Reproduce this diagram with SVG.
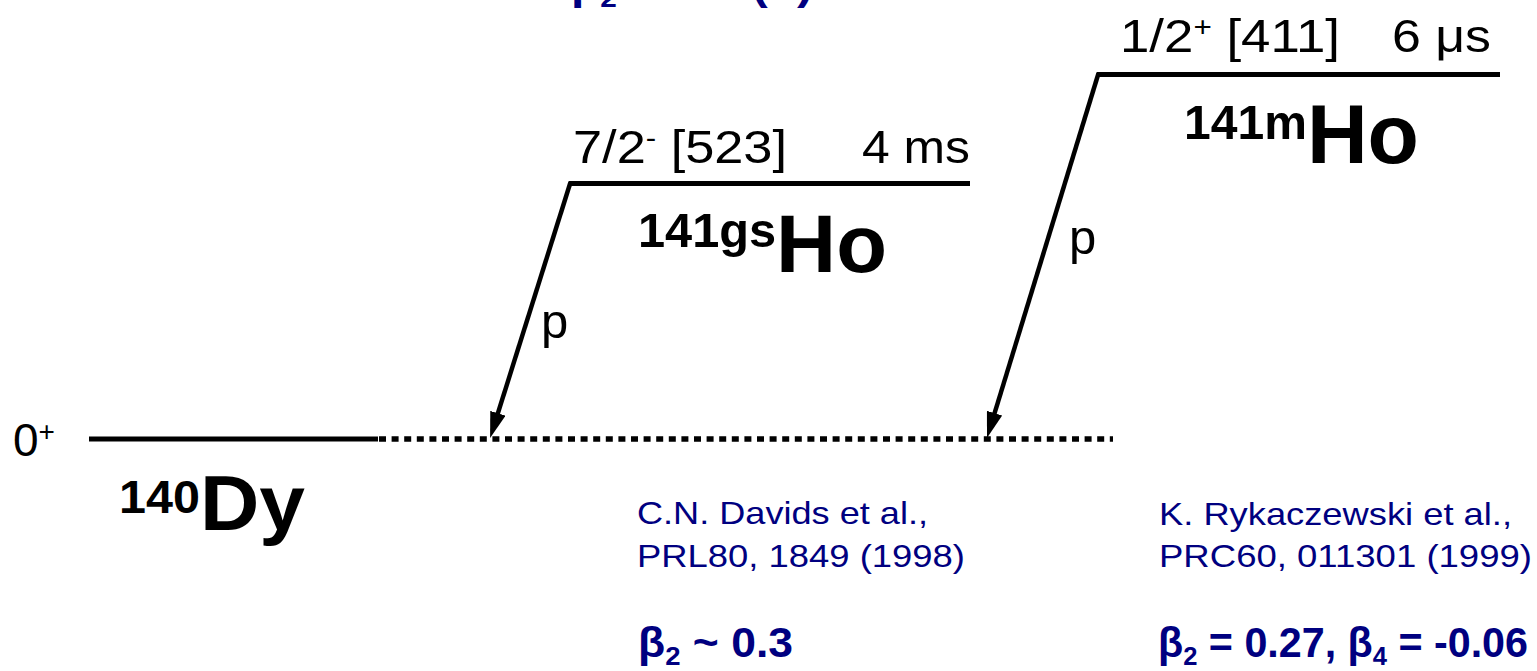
<svg xmlns="http://www.w3.org/2000/svg" width="1537" height="671" viewBox="0 0 1537 671">
<style>
  .lvl { stroke:#000; stroke-width:5; fill:none; stroke-linecap:butt; }
  .dot { stroke:#000; stroke-width:5.5; fill:none; stroke-dasharray:7 5.6; }
  .arr { stroke:#000; stroke-width:4.5; fill:none; }
  .t { font-family:"Liberation Sans", Arial, sans-serif; fill:#000; }
  .b { font-family:"Liberation Sans", Arial, sans-serif; font-weight:bold; fill:#000; }
  .ref { font-family:"Liberation Sans", Arial, sans-serif; fill:#000080; font-size:31.5px; }
  .beta { font-family:"Liberation Sans", Arial, sans-serif; font-weight:bold; fill:#000080; font-size:42px; }
</style>
<defs>
  <marker id="ah" viewBox="0 0 26 16" markerWidth="26" markerHeight="16" refX="1" refY="8" orient="auto" markerUnits="userSpaceOnUse">
    <path d="M0,0 L26,8 L0,16 z" fill="#000"/>
  </marker>
</defs>

<text class="beta" x="571" y="-1" textLength="242" lengthAdjust="spacingAndGlyphs">β<tspan font-size="26" dy="8">2</tspan><tspan dy="-8"> ~ 0.3 (?)</tspan></text>

<g id="dy140">
  <line class="lvl" x1="89" y1="439" x2="378" y2="439"/>
  <line class="dot" x1="379" y1="439" x2="1113" y2="439"/>
  <text class="t" x="13" y="456" font-size="46">0<tspan font-size="28" dy="-15">+</tspan></text>
  <text class="b" x="119" y="513" font-size="46" textLength="186" lengthAdjust="spacingAndGlyphs">140<tspan font-size="78" dy="17">Dy</tspan></text>
</g>

<g id="ho141gs">
  <line class="lvl" x1="569" y1="183.5" x2="970" y2="183.5"/>
  <text class="t" x="573" y="163" font-size="47" textLength="214" lengthAdjust="spacingAndGlyphs">7/2<tspan font-size="28" dy="-16">-</tspan><tspan dy="16"> [523]</tspan></text>
  <text class="t" x="862" y="163" font-size="47" textLength="108" lengthAdjust="spacingAndGlyphs">4 ms</text>
  <text class="b" x="638" y="247" font-size="48" textLength="249" lengthAdjust="spacingAndGlyphs">141gs<tspan font-size="82" dy="25">Ho</tspan></text>
</g>

<g id="ho141m">
  <line class="lvl" x1="1097" y1="74.5" x2="1500" y2="74.5"/>
  <text class="t" x="1120" y="52" font-size="47" textLength="220" lengthAdjust="spacingAndGlyphs">1/2<tspan font-size="28" dy="-16">+</tspan><tspan dy="16"> [411]</tspan></text>
  <text class="t" x="1392" y="52" font-size="47" textLength="99" lengthAdjust="spacingAndGlyphs">6 μs</text>
  <text class="b" x="1184" y="139" font-size="48" textLength="235" lengthAdjust="spacingAndGlyphs">141m<tspan font-size="84" dy="24">Ho</tspan></text>
</g>

<g id="connectors">
  <line class="arr" x1="570.6" y1="182" x2="497.6" y2="414.2" marker-end="url(#ah)"/>
  <line class="arr" x1="1098.6" y1="73" x2="994.3" y2="414.1" marker-end="url(#ah)"/>
  <text class="t" x="541" y="338" font-size="49">p</text>
  <text class="t" x="1069" y="254" font-size="49">p</text>
</g>

<g id="ref-davids">
  <text class="ref" x="637" y="524" textLength="291" lengthAdjust="spacingAndGlyphs">C.N. Davids et al.,</text>
  <text class="ref" x="637" y="567" textLength="328" lengthAdjust="spacingAndGlyphs">PRL80, 1849 (1998)</text>
  <text class="beta" x="638" y="657" textLength="155" lengthAdjust="spacingAndGlyphs">β<tspan font-size="26" dy="8">2</tspan><tspan dy="-8"> ~ 0.3</tspan></text>
</g>

<g id="ref-rykaczewski">
  <text class="ref" x="1159" y="525" textLength="353" lengthAdjust="spacingAndGlyphs">K. Rykaczewski et al.,</text>
  <text class="ref" x="1159" y="567" textLength="373" lengthAdjust="spacingAndGlyphs">PRC60, 011301 (1999)</text>
  <text class="beta" x="1158" y="657" textLength="370" lengthAdjust="spacingAndGlyphs">β<tspan font-size="26" dy="8">2</tspan><tspan dy="-8"> = 0.27, β</tspan><tspan font-size="26" dy="8">4</tspan><tspan dy="-8"> = -0.06</tspan></text>
</g>
</svg>
